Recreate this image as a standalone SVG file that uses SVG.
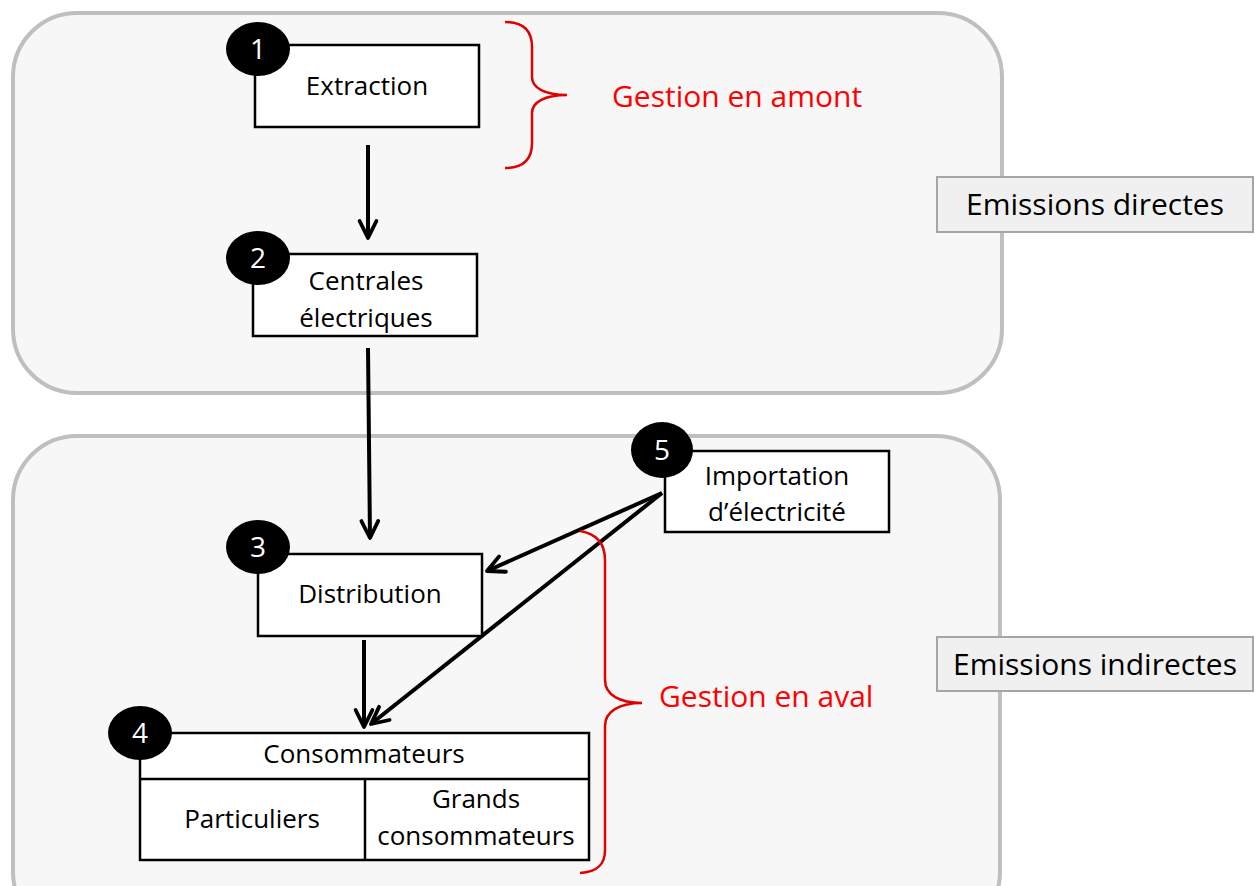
<svg xmlns="http://www.w3.org/2000/svg" width="1255" height="886" viewBox="0 0 1255 886">
<defs>
<style>
.panel{fill:#f7f7f7;stroke:#bfbfbf;stroke-width:4}
.box{fill:#fff;stroke:#000;stroke-width:2.5}
.badge{fill:#000}
.num{font-family:"Open Sans","Liberation Sans",sans-serif;font-size:28px;fill:#fff;text-anchor:middle}
.t{font-family:"Open Sans","Liberation Sans",sans-serif;font-size:26px;fill:#000;text-anchor:middle}
.red{font-family:"Open Sans","Liberation Sans",sans-serif;font-size:30px;fill:#ff0000}
.em{font-family:"Open Sans","Liberation Sans",sans-serif;font-size:30px;fill:#000;text-anchor:middle}
.embox{fill:#f0f0f0;stroke:#a6a6a6;stroke-width:2}
.brace{fill:none;stroke:#e00000;stroke-width:2.5}
.arr{fill:none;stroke:#000;stroke-width:4;marker-end:url(#ah)}
</style>
<marker id="ah" viewBox="0 0 12 12" refX="10.5" refY="6" markerWidth="24" markerHeight="24" markerUnits="userSpaceOnUse" orient="auto">
<path d="M2,1.8 L10.5,6 L2,10.2" fill="none" stroke="#000" stroke-width="1.9" stroke-linecap="round" stroke-linejoin="round"/>
</marker>
</defs>
<rect width="1255" height="886" fill="#fff"/>
<g id="panel-top"><rect class="panel" x="13" y="13" width="989" height="380" rx="64"/></g>
<g id="panel-bottom"><rect class="panel" x="13" y="436" width="987" height="500" rx="64"/></g>

<g id="connectors">
<line class="arr" x1="368" y1="145" x2="368" y2="238"/>
<line class="arr" x1="368" y1="348" x2="370" y2="538"/>
<line class="arr" x1="364" y1="640" x2="364" y2="727"/>
<line class="arr" x1="662" y1="493" x2="487" y2="571"/>
<line class="arr" x1="662" y1="493" x2="371" y2="724"/>
</g>

<g id="node1">
<rect class="box" x="255" y="45" width="224" height="82"/>
<ellipse class="badge" cx="258" cy="49" rx="32" ry="27"/>
<text class="num" x="258" y="59">1</text>
<text class="t" x="367" y="95">Extraction</text>
</g>
<g id="node2">
<rect class="box" x="253" y="254" width="224" height="82"/>
<ellipse class="badge" cx="258" cy="258" rx="32" ry="27"/>
<text class="num" x="258" y="268">2</text>
<text class="t" x="366" y="290">Centrales</text>
<text class="t" x="366" y="327">électriques</text>
</g>
<g id="node3">
<rect class="box" x="258" y="554" width="224" height="82"/>
<ellipse class="badge" cx="258" cy="547" rx="32" ry="27"/>
<text class="num" x="258" y="557">3</text>
<text class="t" x="370" y="603">Distribution</text>
</g>
<g id="node4">
<rect class="box" x="140" y="733" width="449" height="127"/>
<line x1="140" y1="779" x2="589" y2="779" stroke="#000" stroke-width="2.5"/>
<line x1="365" y1="779" x2="365" y2="860" stroke="#000" stroke-width="2.5"/>
<ellipse class="badge" cx="140" cy="733" rx="32" ry="27"/>
<text class="num" x="140" y="743">4</text>
<text class="t" x="364" y="763">Consommateurs</text>
<text class="t" x="252" y="828">Particuliers</text>
<text class="t" x="476" y="808">Grands</text>
<text class="t" x="476" y="845">consommateurs</text>
</g>
<g id="node5">
<rect class="box" x="665" y="451" width="224" height="81"/>
<ellipse class="badge" cx="662" cy="450" rx="31" ry="28"/>
<text class="num" x="662" y="460">5</text>
<text class="t" x="777" y="485">Importation</text>
<text class="t" x="777" y="521">d’électricité</text>
</g>

<g id="brace-amont">
<path class="brace" d="M505,22 C525,22 532,32 532,47 L532,77 C532,88 545,95 567,95 C545,95 532,102 532,113 L532,143 C532,158 525,168 505,168"/>
<text class="red" x="612" y="107">Gestion en amont</text>
</g>
<g id="brace-aval">
<path class="brace" d="M580,531 C598,534 605,545 605,560 L605,680 C605,695 620,703 642,703 C620,703 605,711 605,726 L605,850 C605,864 598,872 580,873"/>
<text class="red" x="659" y="707">Gestion en aval</text>
</g>

<g id="label-directes">
<rect class="embox" x="937" y="177" width="316" height="55"/>
<text class="em" x="1095" y="215">Emissions directes</text>
</g>
<g id="label-indirectes">
<rect class="embox" x="937" y="637" width="316" height="54"/>
<text class="em" x="1095" y="675">Emissions indirectes</text>
</g>
</svg>
